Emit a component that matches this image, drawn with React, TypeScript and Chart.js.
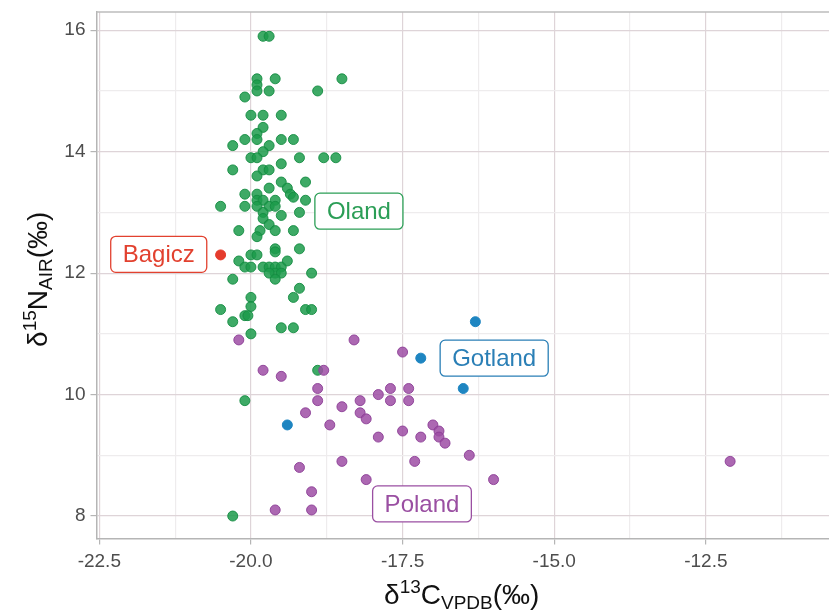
import React, { useEffect, useRef } from "react";
import { Chart, registerables } from "chart.js";

Chart.register(...registerables);

// ---- Data (δ13C, δ15N) ----
const olandX = [
  -19.8, -19.7, -19.9, -19.9, -19.9, -19.6, -18.5, -19.7, -20.1, -18.9,
  -20.0, -19.8, -19.5, -19.8, -19.9, -20.1, -19.9, -19.5, -19.3, -20.3,
  -19.7, -19.8, -20.0, -19.9, -19.2, -18.8, -18.6, -20.3, -19.8, -19.7,
  -19.5, -19.9, -19.5, -19.4, -19.1, -19.7, -20.1, -19.9, -19.35, -19.3,
  -20.5, -20.1, -19.9, -19.8, -19.6, -19.9, -19.7, -19.6, -19.1, -19.8,
  -19.2, -19.8, -19.5, -19.7, -20.2, -19.85, -19.6, -19.3, -19.9, -19.6,
  -19.6, -19.2, -20.0, -19.9, -20.2, -20.1, -20.0, -19.8, -19.7, -19.6,
  -19.5, -19.4, -19.6, -19.5, -19.7, -19.6, -19.0, -20.3, -19.2, -20.0,
  -19.3, -20.5, -20.0, -20.1, -20.05, -19.1, -19.0, -20.3, -20.0, -19.5,
  -19.3, -18.9, -20.1, -20.3,
];
const olandY = [
  15.9, 15.9, 15.2, 15.1, 15.0, 15.2, 15.2, 15.0, 14.9, 15.0,
  14.6, 14.6, 14.6, 14.4, 14.3, 14.2, 14.2, 14.2, 14.2, 14.1,
  14.1, 14.0, 13.9, 13.9, 13.9, 13.9, 13.9, 13.7, 13.7, 13.7,
  13.8, 13.6, 13.5, 13.4, 13.5, 13.4, 13.3, 13.3, 13.3, 13.25,
  13.1, 13.1, 13.2, 13.2, 13.2, 13.1, 13.1, 13.1, 13.2, 13.0,
  13.0, 12.9, 12.95, 12.8, 12.7, 12.7, 12.7, 12.7, 12.6, 12.4,
  12.35, 12.4, 12.3, 12.3, 12.2, 12.1, 12.1, 12.1, 12.1, 12.1,
  12.1, 12.2, 12.0, 12.0, 12.0, 11.9, 12.0, 11.9, 11.75, 11.6,
  11.6, 11.4, 11.45, 11.3, 11.3, 11.4, 11.4, 11.2, 11.0, 11.1,
  11.1, 10.4, 9.9, 8.0,
];
const polandX = [
  -20.2, -18.3, -17.5, -19.8, -19.5, -18.8, -18.9, -18.9, -17.9, -17.7,
  -17.4, -18.2, -17.7, -17.4, -18.5, -19.1, -18.2, -18.1, -18.7, -17.9,
  -17.5, -17.2, -17.0, -16.9, -16.9, -16.8, -18.5, -19.2, -17.3, -18.1,
  -19.0, -19.6, -19.0, -16.4, -16.0, -12.1,
];
const polandY = [
  10.9, 10.9, 10.7, 10.4, 10.3, 10.4, 10.1, 9.9, 10.0, 10.1,
  10.1, 9.9, 9.9, 9.9, 9.8, 9.7, 9.7, 9.6, 9.5, 9.3,
  9.4, 9.3, 9.5, 9.4, 9.3, 9.2, 8.9, 8.8, 8.9, 8.6,
  8.4, 8.1, 8.1, 9.0, 8.6, 8.9,
];
const gotlandX = [-16.3, -17.2, -16.5, -19.4];
const gotlandY = [11.2, 10.6, 10.1, 9.5];
const bagiczX = [-20.5];
const bagiczY = [12.3];

// Group label boxes (text, anchor x, anchor y in data units)
const labelTexts = ["Oland", "Bagicz", "Gotland", "Poland"];
const labelX = [-18.22, -21.52, -15.99, -17.18];
const labelY = [13.02, 12.31, 10.6, 8.2];

const xMin = -22.546;
const xMax = -10.47;
const yMin = 7.63;
const yMax = 16.3;
const xStep = 1.25;
const yStep = 1;

const BLUE = "#1e85c1";
const RED = "#e53c2d";
const labelColors = ["#2b9e56", "#e2412f", "#2a7fb6", "#9a4fa2"];

const FONT = '"Liberation Sans", Arial, Helvetica, sans-serif';

function toPoints(xs: number[], ys: number[]) {
  return xs.map((x, i) => ({ x, y: ys[i] }));
}

function isMult(v: number, m: number) {
  const r = v / m;
  return Math.abs(r - Math.round(r)) < 1e-6;
}

type Part = { t: string; s: number; dy: number };

function drawParts(ctx: CanvasRenderingContext2D, parts: Part[], cx: number, baseY: number) {
  let total = 0;
  for (const p of parts) {
    ctx.font = `${p.s}px ${FONT}`;
    total += ctx.measureText(p.t).width;
  }
  let x = cx - total / 2;
  ctx.textAlign = "left";
  ctx.textBaseline = "alphabetic";
  for (const p of parts) {
    ctx.font = `${p.s}px ${FONT}`;
    ctx.fillText(p.t, x, baseY + p.dy);
    x += ctx.measureText(p.t).width;
  }
}

function roundRect(ctx: CanvasRenderingContext2D, x: number, y: number, w: number, h: number, r: number) {
  ctx.beginPath();
  ctx.moveTo(x + r, y);
  ctx.lineTo(x + w - r, y);
  ctx.arcTo(x + w, y, x + w, y + r, r);
  ctx.lineTo(x + w, y + h - r);
  ctx.arcTo(x + w, y + h, x + w - r, y + h, r);
  ctx.lineTo(x + r, y + h);
  ctx.arcTo(x, y + h, x, y + h - r, r);
  ctx.lineTo(x, y + r);
  ctx.arcTo(x, y, x + r, y, r);
  ctx.closePath();
}

const overlayPlugin = {
  id: "overlay",
  afterDraw(chart: any) {
    const ctx: CanvasRenderingContext2D = chart.ctx;
    const area = chart.chartArea;
    const xs = chart.scales.x;
    const ys = chart.scales.y;
    ctx.save();
    // top panel border
    ctx.strokeStyle = "#bdbdbd";
    ctx.lineWidth = 1.5;
    ctx.beginPath();
    ctx.moveTo(area.left, area.top);
    ctx.lineTo(area.right, area.top);
    ctx.stroke();

    // group labels
    for (let i = 0; i < labelTexts.length; i++) {
      const cx = xs.getPixelForValue(labelX[i]);
      const cy = ys.getPixelForValue(labelY[i]);
      ctx.font = `24px ${FONT}`;
      const w = ctx.measureText(labelTexts[i]).width;
      const bw = w + 24;
      const bh = 36;
      roundRect(ctx, cx - bw / 2, cy - bh / 2, bw, bh, 5);
      ctx.fillStyle = "#ffffff";
      ctx.fill();
      ctx.strokeStyle = labelColors[i];
      ctx.lineWidth = 1.3;
      ctx.stroke();
      ctx.fillStyle = labelColors[i];
      ctx.textAlign = "center";
      ctx.textBaseline = "middle";
      ctx.fillText(labelTexts[i], cx, cy + 1);
    }

    // axis titles
    ctx.fillStyle = "#111111";
    const S = 28;
    const s = 19;
    const xParts: Part[] = [
      { t: "δ", s: S, dy: 0 },
      { t: "13", s: s, dy: -11 },
      { t: "C", s: S, dy: 0 },
      { t: "VPDB", s: s, dy: 5 },
      { t: "(‰)", s: S, dy: 0 },
    ];
    drawParts(ctx, xParts, (area.left + area.right) / 2 - 1, 604);

    const yParts: Part[] = [
      { t: "δ", s: S, dy: 0 },
      { t: "15", s: s, dy: -11 },
      { t: "N", s: S, dy: 0 },
      { t: "AIR", s: s, dy: 5 },
      { t: "(‰)", s: S, dy: 0 },
    ];
    ctx.save();
    ctx.translate(47, (area.top + area.bottom) / 2 + 4);
    ctx.rotate(-Math.PI / 2);
    drawParts(ctx, yParts, 0, 0);
    ctx.restore();
    ctx.restore();
  },
};

export default function App() {
  const canvasRef = useRef<HTMLCanvasElement | null>(null);

  useEffect(() => {
    const canvas = canvasRef.current;
    if (!canvas) return;
    const majorGrid = "rgba(222,212,216,1)";
    const minorGrid = "rgba(238,236,237,1)";
    const axisGrey = "#b5b5b5";

    const chart = new Chart(canvas, {
      type: "scatter",
      data: {
        datasets: [
          {
            label: "Poland",
            data: toPoints(polandX, polandY),
            backgroundColor: "rgba(157,77,165,0.85)",
            borderColor: "rgba(140,62,150,0.9)",
            borderWidth: 1,
            pointRadius: 5,
          },
          {
            label: "Oland",
            data: toPoints(olandX, olandY),
            backgroundColor: "rgba(28,155,75,0.85)",
            borderColor: "rgba(20,140,65,0.9)",
            borderWidth: 1,
            pointRadius: 5,
          },
          {
            label: "Gotland",
            data: toPoints(gotlandX, gotlandY),
            backgroundColor: BLUE,
            borderColor: BLUE,
            borderWidth: 1,
            pointRadius: 5,
          },
          {
            label: "Bagicz",
            data: toPoints(bagiczX, bagiczY),
            backgroundColor: RED,
            borderColor: RED,
            borderWidth: 1,
            pointRadius: 5,
          },
        ],
      },
      options: {
        responsive: false,
        animation: false,
        events: [],
        layout: { autoPadding: false, padding: { top: 12, right: 0, left: 0, bottom: 0 } },
        plugins: {
          legend: { display: false },
          tooltip: { enabled: false },
          title: { display: false },
        },
        scales: {
          x: {
            type: "linear",
            min: xMin,
            max: xMax,
            afterFit: (scale: any) => {
              scale.height = 73.5;
              scale.paddingLeft = 0;
              scale.paddingRight = 0;
            },
            ticks: {
              stepSize: xStep,
              includeBounds: false,
              maxTicksLimit: 40,
              autoSkip: false,
              maxRotation: 0,
              padding: 6,
              color: "#4d4d4d",
              font: { family: FONT, size: 19 },
              callback: (v: any) => (isMult(Number(v), 2.5) ? Number(v).toFixed(1) : ""),
            },
            grid: {
              color: (c: any) => (c.tick && isMult(c.tick.value, 2.5) ? majorGrid : minorGrid),
              tickColor: (c: any) => (c.tick && isMult(c.tick.value, 2.5) ? axisGrey : "rgba(0,0,0,0)"),
              tickLength: 6,
              lineWidth: 1.2,
              drawTicks: true,
            },
            border: { display: true, color: axisGrey, width: 1.5 },
          },
          y: {
            type: "linear",
            min: yMin,
            max: yMax,
            afterFit: (scale: any) => {
              scale.width = 96.5;
              scale.paddingTop = 0;
              scale.paddingBottom = 0;
            },
            ticks: {
              stepSize: yStep,
              includeBounds: false,
              maxTicksLimit: 40,
              autoSkip: false,
              padding: 5,
              color: "#4d4d4d",
              font: { family: FONT, size: 19 },
              callback: (v: any) => (isMult(Number(v), 2) ? String(Math.round(Number(v))) : ""),
            },
            grid: {
              color: (c: any) => (c.tick && isMult(c.tick.value, 2) ? majorGrid : minorGrid),
              tickColor: (c: any) => (c.tick && isMult(c.tick.value, 2) ? axisGrey : "rgba(0,0,0,0)"),
              tickLength: 6,
              lineWidth: 1.2,
              drawTicks: true,
            },
            border: { display: true, color: axisGrey, width: 1.5 },
          },
        },
      },
      plugins: [overlayPlugin],
    } as any);

    return () => {
      chart.destroy();
    };
  }, []);

  return (
    <div
      style={{
        position: "fixed",
        left: 0,
        top: 0,
        width: 829,
        height: 612,
        background: "#ffffff",
      }}
    >
      <canvas ref={canvasRef} width={829} height={612} style={{ width: 829, height: 612 }} />
    </div>
  );
}
